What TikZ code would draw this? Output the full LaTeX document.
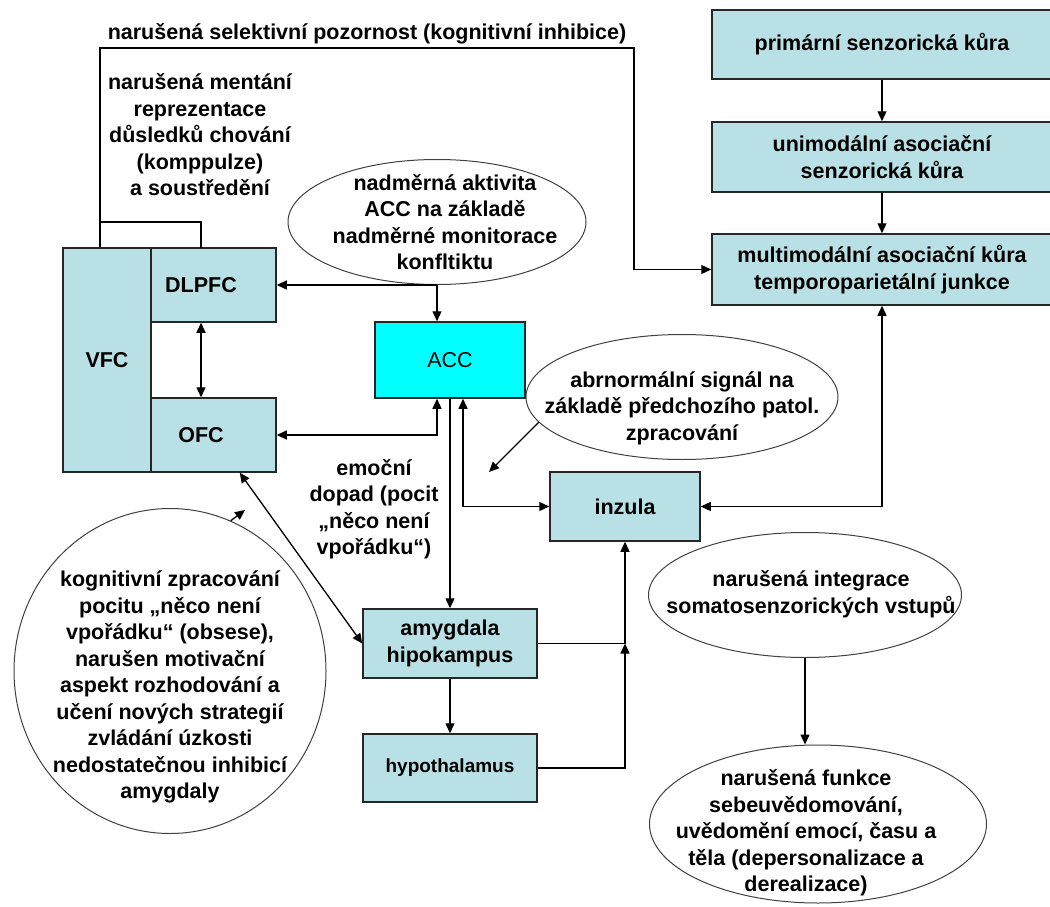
\documentclass[tikz,border=0pt]{standalone}
\usepackage{fontspec}
\setmainfont{Liberation Sans}
\usetikzlibrary{shapes,arrows.meta,positioning}

\definecolor{boxfill}{RGB}{185,224,228}
\definecolor{accfill}{RGB}{0,255,255}

\tikzset{
	box/.style={draw=black!85, line width=1.5pt, fill=boxfill, rectangle, inner sep=2pt, align=center},
	oval/.style={draw=black!75, line width=1pt, ellipse, inner sep=0pt},
	txt/.style={align=center, inner sep=0pt},
	conn/.style={line width=1.3pt, >={Triangle[length=10pt,width=9pt]}}
}

\begin{document}
\begin{tikzpicture}[x=1pt, y=-1pt, font=\fontsize{21.5}{26.5}\selectfont\bfseries]
\useasboundingbox (0,0) rectangle (1050,907);

% frontal cortex
\node[box, minimum width=88, minimum height=224] (vfc) at (107,360) {VFC};
\node[box, minimum width=125, minimum height=74] (dlpfc) at (213.5,285) {\hspace*{-25pt}DLPFC}; % text sits a bit left of the middle
\node[box, minimum width=125, minimum height=74] (ofc) at (213.5,435) {\hspace*{-25pt}OFC};

% cingulum, insula, limbic system
\node[box, fill=accfill, minimum width=150, minimum height=76, font=\fontsize{21.5}{26.5}\selectfont\mdseries] (acc) at (450,360) {ACC};
\node[box, minimum width=150, minimum height=69] (inzula) at (625,506.5) {inzula};
\node[box, minimum width=174, minimum height=69] (amyg) at (450,643.5) {amygdala\\hipokampus};
\node[box, minimum width=174, minimum height=68, font=\fontsize{19}{23}\selectfont\bfseries] (hypo) at (450,768) {hypothalamus};

% sensory chain on the right (right edge runs off the page)
\node[box, minimum width=340, minimum height=69] (prim) at (882,44.5) {primární senzorická kůra};
\node[box, minimum width=340, minimum height=70] (uni) at (882,157) {unimodální asociační\\senzorická kůra};
\node[box, minimum width=340, minimum height=71] (multi) at (882,269.5) {multimodální asociační kůra\\temporoparietální junkce};

% ovals - the text is set as a separate node so the oval keeps its size
\node[oval, minimum width=298, minimum height=125] (monit) at (437,222) {};
\node[txt] (monittxt) at (445,222) {nadměrná aktivita\\ACC na základě\\nadměrné monitorace\\konfltiktu};

\node[oval, minimum width=312, minimum height=125] (signal) at (682,397) {};
\node[txt] (signaltxt) at (682,408) {abrnormální signál na\\základě předchozího patol.\\zpracování};

\node[oval, minimum width=313, minimum height=125] (integr) at (805,595) {};
\node[txt] (integrtxt) at (811,594) {narušená integrace\\somatosenzorických vstupů};

\node[oval, minimum width=337, minimum height=158] (depers) at (818,824) {};
\node[txt] (deperstxt) at (806,833) {narušená funkce\\sebeuvědomování,\\uvědomění emocí, času a\\těla (depersonalizace a\\derealizace)};

\node[oval, minimum width=312, minimum height=325] (kogn) at (170,671) {};
\node[txt] (kogntxt) at (170,687) {kognitivní zpracování\\pocitu „něco není\\vpořádku“ (obsese),\\narušen motivační\\aspekt rozhodování a\\učení nových strategií\\zvládání úzkosti\\nedostatečnou inhibicí\\amygdaly};

% free labels
\node[txt] (pozor) at (367,34) {narušená selektivní pozornost (kognitivní inhibice)};
\node[txt] (mental) at (200,135) {narušená mentání\\reprezentace\\důsledků chování\\(komppulze)\\a soustředění};
\node[txt] (emoc) at (374,509) {emoční\\dopad (pocit\\„něco není\\vpořádku“)};

% helper points
\coordinate (topL) at (100,48);
\coordinate (topR) at (634,48);
\coordinate (brk) at (100,222);
\coordinate (dlx) at (201,248);
\coordinate (sig) at (489,472);
\coordinate (cog) at (245,510);

% connectors
\draw[conn,->] (vfc.north -| topL) -- (topL) -- (topR) |- (multi.west);
\draw[conn] (brk) -| (dlx);
\draw[conn,->] (monit.south) -- (dlpfc.east);
\draw[conn,->] (monit.south) -- (monit.south |- acc.north);
\draw[conn,<->] (dlpfc.south -| dlx) -- (ofc.north -| dlx);
\draw[conn,<->] (ofc.east) -| (monit.south |- acc.south);
\draw[conn,->] (acc.south) -- (amyg.north);
\draw[conn,<->] ([xshift=13pt]acc.south) |- (inzula.west);
\draw[conn,->] (signal.190) -- (sig);
\draw[conn,<->] (inzula.east) -| (multi.south);
\draw[conn,<->] ([xshift=-37pt]ofc.south east) -- (amyg.west);
\draw[conn,->] (kogn.68) -- (cog);
\draw[conn,->] (amyg) -- (hypo);
\draw[conn,->] (amyg.east) -| (inzula.south);
\draw[conn,->] (hypo.east) -| (amyg.east -| inzula.south);
\draw[conn,->] (prim) -- (uni);
\draw[conn,->] (uni) -- (multi);
\draw[conn,->] (integr.south) -- (integr.south |- depers.north);

\end{tikzpicture}
\end{document}
